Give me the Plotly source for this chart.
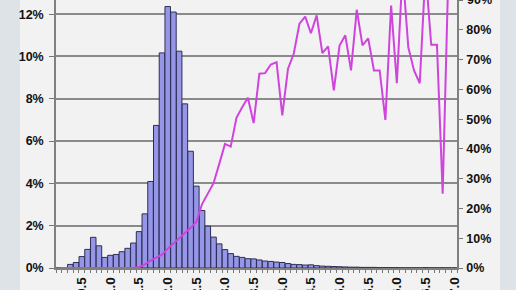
import plotly.graph_objects as go

categories = ["0.1","0.2","0.3","0.4","0.5","0.6","0.7","0.8","0.9","1.0",
              "1.1","1.2","1.3","1.4","1.5","1.6","1.7","1.8","1.9","2.0",
              "2.1","2.2","2.3","2.4","2.5","2.6","2.7","2.8","2.9","3.0",
              "3.1","3.2","3.3","3.4","3.5","3.6","3.7","3.8","3.9","4.0",
              "4.1","4.2","4.3","4.4","4.5","4.6","4.7","4.8","4.9","5.0",
              "5.1","5.2","5.3","5.4","5.5","5.6","5.7","5.8","5.9","6.0",
              "6.1","6.2","6.3","6.4","6.5","6.6","6.7","6.8","6.9","7.0"]

# histogram share (percent)
share_pct = [0, 0, 0.17, 0.26, 0.54, 0.88, 1.45, 1.05, 0.50, 0.60,
             0.64, 0.77, 0.93, 1.18, 1.72, 2.56, 4.09, 6.74, 10.17, 12.36,
             12.10, 10.25, 7.76, 5.52, 3.87, 2.72, 1.98, 1.46, 1.14, 0.87,
             0.68, 0.55, 0.50, 0.44, 0.43, 0.38, 0.33, 0.31, 0.28, 0.26,
             0.21, 0.17, 0.16, 0.14, 0.15, 0.11, 0.09, 0.08, 0.07, 0.06,
             0.05, 0.04, 0.04, 0.03, 0.03, 0.03, 0.02, 0.02, 0.02, 0.02,
             0.01, 0.01, 0.01, 0.01, 0.02, 0.01, 0.01, 0.01, 0.01, 0.005]

# line on right axis (percent)
rate_pct = [0, 0, 0, 0, 0, 0, 0, 0, 0, 0,
            0, 0, 0, 0, 0.3, 1.2, 2.5, 3.5, 4.5, 6.5,
            8.2, 10.0, 11.5, 13.5, 15.5, 21.5, 25.0, 28.5, 35.0, 41.7,
            40.8, 50.5, 54.0, 57.2, 48.7, 65.3, 65.5, 68.4, 69.2, 51.3,
            67.0, 72.0, 82.1, 84.5, 78.9, 84.9, 72.2, 74.5, 59.7, 74.8,
            78.2, 66.4, 86.8, 74.8, 77.2, 66.4, 66.4, 49.8, 88.2, 62.1,
            100, 74.2, 66.4, 62.1, 100, 75.0, 75.0, 25.0, 100, 100]

right_ticks = [0, 10, 20, 30, 40, 50, 60, 70, 80, 90]

xlabels = [c if (i + 1) % 5 == 0 else "" for i, c in enumerate(categories)]

W, H = 516, 290
ML, MR, MT, MB = 56, 59, 0, 22
PW = W - ML - MR
PH = H - MT - MB

fig = go.Figure()
fig.add_trace(go.Bar(
    x=categories, y=[v / 100 for v in share_pct],
    marker=dict(color="#9696E8", line=dict(color="#2E2E55", width=1)),
    yaxis="y", showlegend=False))
fig.add_trace(go.Scatter(
    x=categories, y=[v / 100 for v in rate_pct], mode="lines",
    line=dict(color="#D044DE", width=2), yaxis="y2", showlegend=False))

tf = dict(family="Liberation Sans, Arial, sans-serif", size=12.5, color="#111111", weight="bold")
tfx = dict(family="Liberation Sans, Arial, sans-serif", size=13.5, color="#111111", weight="bold")

def px2paper_x(px):
    return (px - ML) / PW

fig.update_layout(
    width=W, height=H,
    margin=dict(l=ML, r=MR, t=MT, b=MB, pad=0, autoexpand=False),
    paper_bgcolor="#F2F2F2", plot_bgcolor="#F2F2F2",
    bargap=0.04,
    xaxis=dict(type="category", tickmode="array", tickvals=categories, ticktext=xlabels,
               tickson="boundaries", ticks="outside", ticklen=3, tickcolor="#777777",
               tickangle=-90, tickfont=tfx, ticklabelstandoff=2, automargin=False,
               showgrid=False, showline=True,
               linecolor="#808080", linewidth=1.5, range=[-0.5, 69.5]),
    yaxis=dict(range=[0, 0.1267], dtick=0.02, tickformat=".0%", tickfont=tf,
               showgrid=True, gridcolor="#8a8a8a", gridwidth=1.5, zeroline=False,
               showline=True, linecolor="#808080", linewidth=1.5, automargin=False,
               ticks="outside", ticklen=5, tickcolor="#777777", ticklabelstandoff=3),
    yaxis2=dict(range=[0, 0.9008], tickmode="array",
                tickvals=[t / 100 for t in right_ticks],
                ticktext=[f"{t}%" for t in right_ticks], tickfont=tf,
                overlaying="y", side="right", showgrid=False, zeroline=False,
                showline=True, linecolor="#808080", linewidth=1.5, automargin=False,
                ticks="outside", ticklen=4, tickcolor="#777777", ticklabelstandoff=1),
    annotations=[
        dict(text="90%", xref="paper", x=1, xanchor="left", xshift=8,
             yref="y2", y=0.9, yanchor="middle", showarrow=False, font=tf),
    ],
    shapes=[
        dict(type="rect", xref="paper", yref="paper", layer="below",
             x0=px2paper_x(0), x1=px2paper_x(20), y0=-1, y1=2,
             fillcolor="#DEE3E7", line=dict(width=0)),
        dict(type="rect", xref="paper", yref="paper", layer="below",
             x0=px2paper_x(500), x1=px2paper_x(520), y0=-1, y1=2,
             fillcolor="#DEE3E7", line=dict(width=0)),
        dict(type="line", xref="paper", yref="y2", x0=1, x1=1 + 4 / PW,
             y0=0.9, y1=0.9, line=dict(color="#777777", width=1)),
    ],
)

fig.write_html("out.html")
